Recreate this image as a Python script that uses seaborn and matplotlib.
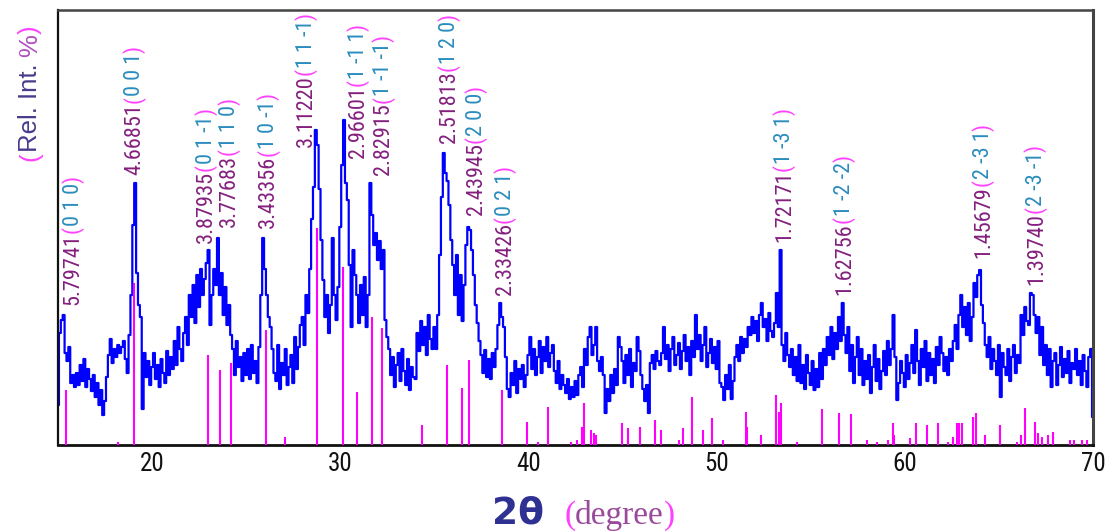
import numpy as np
import matplotlib
matplotlib.use("Agg")
import matplotlib.pyplot as plt
import matplotlib.transforms as mtransforms
from matplotlib import font_manager
from matplotlib.font_manager import FontProperties
import seaborn as sns

# ---- measured pattern (0.1 deg scan step) ----
two_theta_start, two_theta_stop, two_theta_step = 15.0, 70.0, 0.1
intensity = [
    40, 112, 125, 130, 92, 84, 98, 62, 70, 58,        # 15
    72, 60, 80, 64, 86, 58, 76, 66, 54, 70,           # 16
    48, 62, 40, 55, 30, 44, 68, 90, 106, 82,          # 17
    96, 88, 100, 92, 98, 104, 86, 72, 110, 150,       # 18
    220, 262, 172, 140, 128, 36, 92, 68, 84, 60,      # 19
    78, 92, 66, 80, 58, 86, 72, 62, 94, 70,           # 20
    88, 76, 104, 80, 118, 96, 84, 112, 128, 100,      # 21
    150, 128, 160, 122, 170, 138, 176, 150, 166, 182, # 22
    195, 120, 150, 176, 160, 207, 150, 172, 130, 158, # 23
    120, 140, 110, 96, 70, 104, 78, 88, 64, 92,       # 24
    70, 96, 66, 100, 72, 84, 62, 98, 150, 207,        # 25
    176, 150, 128, 118, 96, 72, 64, 100, 56, 82,      # 26
    70, 96, 60, 78, 90, 62, 108, 76, 98, 120,         # 27
    128, 100, 150, 132, 176, 226, 258, 315, 300, 256, # 28
    205, 165, 128, 150, 112, 140, 207, 150, 125, 158, # 29
    218, 280, 325, 262, 245, 180, 118, 195, 170, 150, # 30
    122, 160, 130, 168, 118, 150, 262, 230, 200, 212, # 31
    185, 204, 176, 195, 125, 108, 96, 70, 88, 58,     # 32
    80, 92, 64, 96, 74, 60, 86, 55, 78, 68,           # 33
    66, 112, 94, 124, 100, 118, 90, 130, 106, 96,     # 34
    118, 96, 130, 190, 248, 292, 272, 264, 240, 205,  # 35
    180, 150, 190, 130, 170, 124, 160, 200, 218, 215, # 36
    195, 170, 140, 122, 104, 90, 72, 95, 68, 86,      # 37
    66, 92, 78, 96, 120, 142, 128, 118, 88, 56,       # 38
    48, 72, 60, 84, 52, 76, 66, 80, 58, 70,           # 39
    90, 108, 76, 96, 70, 88, 104, 72, 98, 84,         # 40
    108, 78, 92, 100, 74, 62, 84, 56, 70, 60,         # 41
    52, 66, 46, 58, 48, 64, 50, 70, 78, 58,           # 42
    96, 80, 108, 118, 90, 100, 118, 84, 74, 88,       # 43
    70, 32, 56, 44, 70, 52, 76, 60, 108, 98,          # 44
    84, 62, 90, 70, 96, 58, 82, 74, 108, 94,          # 45
    70, 56, 44, 60, 32, 82, 90, 76, 94, 84,           # 46
    80, 92, 118, 86, 100, 74, 96, 108, 80, 90,        # 47
    102, 76, 94, 110, 84, 98, 70, 104, 88, 130,       # 48
    96, 110, 84, 100, 118, 78, 92, 106, 82, 98,       # 49
    76, 104, 62, 58, 45, 70, 56, 80, 46, 64,          # 50
    88, 100, 84, 108, 92, 106, 98, 118, 110, 128,     # 51
    112, 124, 104, 130, 142, 118, 126, 104, 132, 114, # 52
    108, 122, 152, 118, 195, 100, 84, 112, 90, 78,    # 53
    96, 70, 88, 64, 100, 62, 80, 56, 90, 72,          # 54
    60, 84, 55, 76, 58, 92, 66, 96, 80, 108,          # 55
    90, 118, 86, 112, 96, 128, 104, 142, 110, 92,     # 56
    118, 74, 100, 62, 88, 108, 70, 96, 60, 84,        # 57
    66, 90, 52, 78, 100, 64, 86, 56, 74, 94,          # 58
    70, 104, 80, 96, 130, 88, 45, 62, 84, 72,         # 59
    58, 90, 66, 82, 100, 72, 115, 84, 60, 96,         # 60
    78, 104, 64, 92, 70, 86, 62, 98, 80, 108,         # 61
    92, 74, 88, 70, 96, 84, 104, 120, 96, 130,        # 62
    150, 118, 138, 110, 142, 104, 128, 162, 148, 170, # 63
    175, 140, 122, 100, 88, 108, 76, 96, 84, 70,      # 64
    100, 48, 92, 78, 70, 96, 64, 88, 100, 72,         # 65
    90, 82, 130, 110, 138, 124, 120, 152, 150, 130,   # 66
    112, 128, 90, 118, 80, 100, 70, 96, 58, 84,       # 67
    92, 60, 80, 98, 68, 86, 72, 94, 62, 82,           # 68
    76, 96, 70, 84, 60, 90, 74, 58, 88, 96,           # 69
    28,                                               # 70
]

# ---- reference card lines ----
stick_pos = [15.4, 18.2, 19.05, 22.97, 23.6, 24.2, 26.05, 27.05, 28.75, 30.15,
             30.9, 31.7, 32.2, 34.35, 35.65, 36.45, 36.85, 38.6, 39.9, 40.5,
             41.05, 42.25, 42.6, 42.85, 42.95, 43.3, 43.5, 43.6, 44.95, 45.3,
             45.95, 46.75, 47.05, 48.0, 48.2, 48.7, 49.3, 49.75, 50.35, 51.55,
             51.6, 52.35, 53.15, 53.3, 53.4, 54.25, 55.6, 56.5, 57.15, 58.0,
             58.5, 59.1, 59.35, 59.45, 60.3, 60.6, 61.2, 61.75, 62.3, 62.55,
             62.75, 62.9, 63.05, 63.65, 63.8, 64.25, 65.05, 65.95, 66.2, 66.4,
             66.9, 67.1, 67.3, 67.6, 67.85, 68.8, 69.0, 69.4, 69.7]
stick_int = [55, 3, 162, 90, 75, 82, 115, 8, 217, 178,
             53, 128, 117, 20, 80, 57, 85, 55, 23, 3,
             38, 3, 5, 18, 42, 15, 12, 10, 22, 17,
             18, 25, 15, 5, 17, 48, 15, 27, 5, 33,
             18, 10, 50, 33, 42, 3, 36, 32, 31, 5,
             3, 5, 22, 10, 7, 22, 20, 22, 3, 8,
             22, 22, 22, 28, 32, 10, 20, 3, 10, 37,
             23, 12, 8, 10, 13, 5, 5, 5, 5]

# ---- indexed reflections: d-spacing (A) and Miller indices ----
d_spacing = ["5.79741", "4.66851", "3.87935", "3.77683", "3.43356", "3.11220",
             "2.96601", "2.82915", "2.51813", "2.43945", "2.33426", "1.72171",
             "1.62756", "1.45679", "1.39740"]
hkl = ["0 1 0", "0 0 1", "0 1 -1", "1 1 0", "1 0 -1", "1 1 -1",
       "1 -1 1", "1 -1 -1", "1 2 0", "2 0 0", "0 2 1", "1 -3 1",
       "1 -2 -2", "2 -3 1", "2 -3 -1"]
# where each annotation column starts (2theta, height)
label_x = [15.74, 18.99, 22.81, 24.03, 26.11, 28.12, 30.89, 32.22, 35.72,
           37.16, 38.70, 53.52, 56.71, 64.10, 66.91]
label_y = [140, 270, 202, 218, 217, 298, 287, 270, 302, 230, 150, 203, 150, 187, 160]

x_ticks = [20, 30, 40, 50, 60, 70]
x_minor = [25, 35, 45, 55, 65]

# ---- style ----
sns.set_style("white")
plain = "Liberation Sans"
plt.rcParams["font.family"] = [plain, "DejaVu Sans"]


def condensed_font():
    """Path of an installed condensed sans face, if there is one."""
    wanted = ["Liberation Sans Narrow", "Roboto Condensed", "Open Sans Condensed",
              "Noto Sans", "DejaVu Sans", "Roboto", "Open Sans"]
    found = {}
    for f in font_manager.fontManager.ttflist:
        st = f.stretch
        cond = ("condensed" in st) if isinstance(st, str) else (st < 500)
        if f.name in ("Liberation Sans Narrow", "Roboto Condensed", "Open Sans Condensed"):
            cond = True
        w = f.weight
        regular = w in ("normal", "regular", "book", 400) or w == 400
        if cond and regular and f.style == "normal" and f.name in wanted:
            found.setdefault(f.name, f.fname)
    for n in wanted:
        if n in found:
            return found[n]
    return None


cond_path = condensed_font()


def font(size, fallback=plain):
    if cond_path:
        return dict(fontproperties=FontProperties(fname=cond_path, size=size))
    return dict(fontproperties=FontProperties(family=[fallback, "DejaVu Sans"],
                                              size=size * 0.93))


C_LINE = "#0000ff"
C_STICK = "#ff00ff"
C_D = "#84207f"
C_HKL = "#2a8cbe"
C_PAR = "#ff40ff"

fig = plt.figure(figsize=(11.1, 5.32), dpi=100)
ax = fig.add_axes([0.05225, 0.1635, 0.9324, 0.8177])

two_theta = np.round(np.arange(two_theta_start, two_theta_stop + two_theta_step / 2,
                               two_theta_step), 1)
sns.lineplot(x=two_theta, y=np.asarray(intensity, float), ax=ax, color=C_LINE,
             lw=1.6, drawstyle="steps-mid", estimator=None, zorder=2)
ax.vlines(stick_pos, 0, stick_int, colors=C_STICK, lw=1.5, zorder=3)

ax.set_xlim(15, 70)
ax.set_ylim(0, 435)
ax.set_xticks(x_ticks)
ax.set_xticks(x_minor, minor=True)
ax.set_yticks([])
ax.set_xlabel("")
ax.set_ylabel("")
ax.tick_params(axis="x", which="major", direction="in", length=8, width=2,
               color="black", pad=5, labelcolor="#111111")
ax.tick_params(axis="x", which="minor", direction="in", length=5, width=2,
               color="black")
tick_fp = font(18)["fontproperties"]
for lab in ax.get_xticklabels():
    lab.set_fontproperties(tick_fp)
for side, col, lw in [("left", "#111111", 1.6), ("bottom", "#111111", 2.0),
                      ("top", "#444444", 1.8), ("right", "#444444", 2.2)]:
    ax.spines[side].set_visible(True)
    ax.spines[side].set_color(col)
    ax.spines[side].set_linewidth(lw)

renderer = fig.canvas.get_renderer()
pix = mtransforms.IdentityTransform()


def chain(x0, y0, parts, vertical):
    """Write coloured pieces one after another, starting at display point (x0, y0)."""
    pos = 0.0
    for s, col, kw in parts:
        xy = (x0, y0 + pos) if vertical else (x0 + pos, y0)
        t = fig.text(xy[0], xy[1], s, color=col, rotation=90 if vertical else 0,
                     rotation_mode="anchor", ha="left", va="baseline",
                     transform=pix, **kw)
        bb = t.get_window_extent(renderer=renderer)
        pos += bb.height if vertical else bb.width


lab_kw = font(16)
for d, h, lx, ly in zip(d_spacing, hkl, label_x, label_y):
    px, py = ax.transData.transform((lx, ly))
    chain(px + 7, py, [(d, C_D, lab_kw), ("(", C_PAR, lab_kw),
                       (h, C_HKL, lab_kw), (")", C_PAR, lab_kw)], vertical=True)

# y-axis title
yl_kw = dict(fontsize=18.5, family=[plain, "DejaVu Sans"])
chain(37, 532 - 161, [("(", C_PAR, yl_kw), ("Rel. Int. ", "#4a3a8c", yl_kw),
                      ("%", "#b050c0", yl_kw), (")", C_PAR, yl_kw)], vertical=True)

# x-axis title
fig.text(492, 9, "2\u03b8", color="#2e3192", fontsize=27, fontweight="bold",
         family=["DejaVu Sans"], transform=pix, ha="left", va="baseline")
xl_kw = dict(fontsize=24, family=["Liberation Serif", "DejaVu Serif"])
chain(564, 8, [("(", C_PAR, xl_kw), ("degree", "#9b4a9b", xl_kw),
               (")", C_PAR, xl_kw)], vertical=False)

fig.savefig("out.png", dpi=100)
